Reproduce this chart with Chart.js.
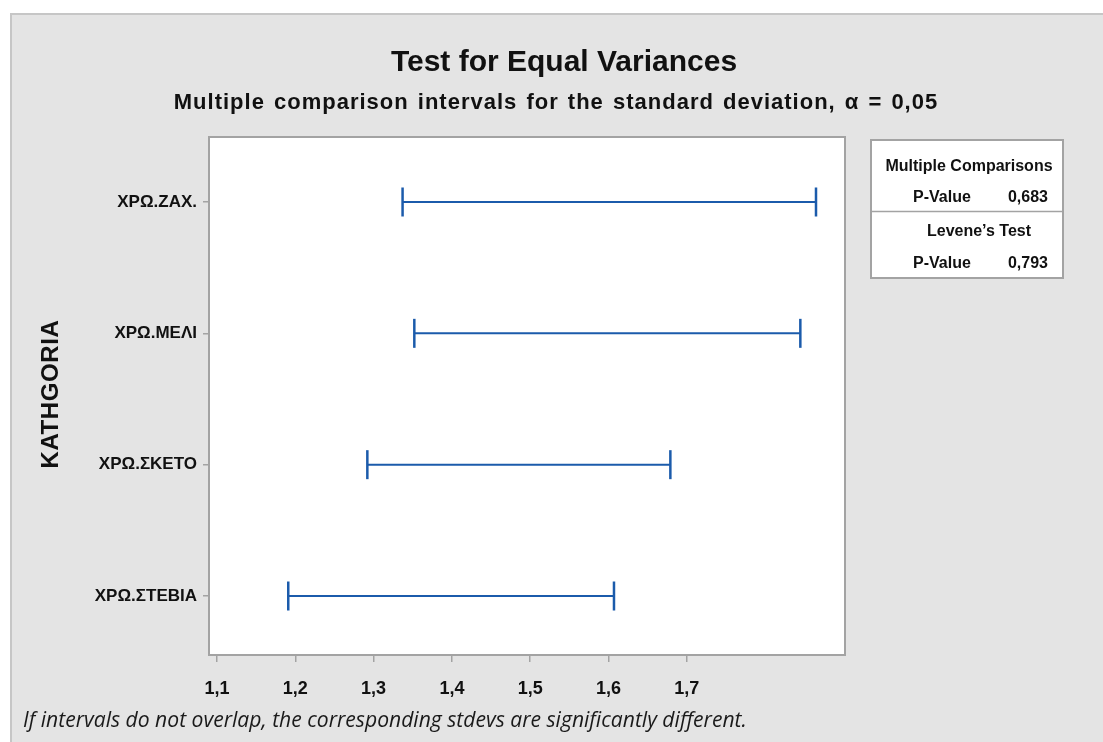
<!DOCTYPE html>
<html>
<head>
<meta charset="utf-8">
<script src="https://cdn.jsdelivr.net/npm/chart.js@4"></script>
<style>
  html, body { margin: 0; padding: 0; background: #ffffff; }
  #wrap { width: 1103px; height: 742px; position: relative; }
</style>
</head>
<body>
<div id="wrap"><canvas id="chart"></canvas></div>
<script>
// Categories, top to bottom
const categories = ['ΧΡΩ.ΖΑΧ.', 'ΧΡΩ.ΜΕΛΙ', 'ΧΡΩ.ΣΚΕΤΟ', 'ΧΡΩ.ΣΤΕΒΙΑ'];
// Interval bounds for the standard deviation of each category
const lowerBounds = [1.337, 1.352, 1.292, 1.191];
const upperBounds = [1.865, 1.845, 1.679, 1.607];
// Labelled x ticks
const xTickValues = [1.1, 1.2, 1.3, 1.4, 1.5, 1.6, 1.7];
// Summary table values
const multipleComparisonsP = '0,683';
const leveneP = '0,793';

const BLUE = '#1b5bab';
const FRAME = '#a3a3a3';
const PANEL = '#e4e4e4';
const SANS = '"Liberation Sans", Arial, sans-serif';

// Row position on the y scale: first category at the top
const rowPos = i => categories.length - i;

const datasets = categories.map((c, i) => ({
  label: c,
  data: [{ x: lowerBounds[i], y: rowPos(i) }, { x: upperBounds[i], y: rowPos(i) }],
  showLine: true,
  borderColor: BLUE,
  borderWidth: 2,
  pointStyle: 'line',
  rotation: 90,
  pointRadius: 14.5,
  pointBorderWidth: 2.5,
  pointBorderColor: BLUE,
  pointBackgroundColor: BLUE
}));

// draw text so that it spans a given width, choosing the font size
function fitText(ctx, text, x, y, width, style, family) {
  ctx.font = style + ' 20px ' + family;
  const w = ctx.measureText(text).width;
  const size = 20 * width / w;
  ctx.font = style + ' ' + size.toFixed(2) + 'px ' + family;
  ctx.fillText(text, x, y);
}

const decor = {
  id: 'decor',
  beforeDraw(chart) {
    const { ctx, chartArea: a } = chart;
    ctx.save();
    ctx.fillStyle = '#ffffff';
    ctx.fillRect(0, 0, chart.width, chart.height);
    ctx.fillStyle = PANEL;
    ctx.fillRect(10, 13, chart.width - 10, chart.height - 13);
    ctx.strokeStyle = '#c6c6c6';
    ctx.lineWidth = 2;
    ctx.beginPath();
    ctx.moveTo(11, chart.height);
    ctx.lineTo(11, 14);
    ctx.lineTo(chart.width, 14);
    ctx.stroke();
    ctx.fillStyle = '#ffffff';
    ctx.fillRect(a.left, a.top, a.right - a.left, a.bottom - a.top);
    ctx.restore();
  },
  afterDraw(chart) {
    const { ctx, chartArea: a } = chart;
    ctx.save();
    // plot frame
    ctx.strokeStyle = FRAME;
    ctx.lineWidth = 2;
    ctx.strokeRect(a.left, a.top, a.right - a.left, a.bottom - a.top);

    ctx.fillStyle = '#111111';
    ctx.textAlign = 'center';
    ctx.textBaseline = 'middle';
    ctx.font = 'bold 30px ' + SANS;
    ctx.fillText('Test for Equal Variances', 564, 63);
    ctx.letterSpacing = '1px';
    ctx.wordSpacing = '2px';
    ctx.font = 'bold 22px ' + SANS;
    ctx.fillText('Multiple comparison intervals for the standard deviation, α = 0,05', 556, 103);
    ctx.letterSpacing = '0px';
    ctx.wordSpacing = '0px';

    // y axis title
    ctx.save();
    ctx.translate(51, 394);
    ctx.rotate(-Math.PI / 2);
    ctx.font = 'bold 24px ' + SANS;
    ctx.letterSpacing = '0.6px';
    ctx.fillText('KATHGORIA', 0, 0);
    ctx.restore();

    // summary table
    const bx = 871, by = 140, bw = 192, bh = 138;
    ctx.fillStyle = '#ffffff';
    ctx.fillRect(bx, by, bw, bh);
    ctx.strokeStyle = FRAME;
    ctx.lineWidth = 2;
    ctx.strokeRect(bx, by, bw, bh);
    ctx.lineWidth = 1.5;
    ctx.beginPath();
    ctx.moveTo(bx, 211.5);
    ctx.lineTo(bx + bw, 211.5);
    ctx.stroke();

    ctx.fillStyle = '#111111';
    ctx.font = 'bold 16px ' + SANS;
    ctx.textAlign = 'center';
    ctx.fillText('Multiple Comparisons', 969, 167);
    ctx.fillText('Levene’s Test', 979, 232);
    ctx.textAlign = 'left';
    ctx.fillText('P-Value', 913, 198);
    ctx.fillText('P-Value', 913, 264);
    ctx.textAlign = 'right';
    ctx.fillText(multipleComparisonsP, 1048, 198);
    ctx.fillText(leveneP, 1048, 264);

    // footnote
    ctx.textAlign = 'left';
    ctx.fillStyle = '#1a1a1a';
    fitText(ctx, 'If intervals do not overlap, the corresponding stdevs are significantly different.',
      23, 721, 724, 'italic', '"Open Sans", Lato, sans-serif');
    ctx.restore();
  }
};

new Chart(document.getElementById('chart'), {
  type: 'scatter',
  data: { datasets },
  plugins: [decor],
  options: {
    responsive: true,
    maintainAspectRatio: false,
    animation: false,
    layout: { padding: { top: 137, right: 258, bottom: 0, left: 0 } },
    plugins: { legend: { display: false }, tooltip: { enabled: false }, title: { display: false } },
    scales: {
      x: {
        type: 'linear',
        min: 1.08978,
        max: 1.90204,
        afterFit(s) { s.height = 87; },
        afterBuildTicks(s) { s.ticks = xTickValues.map(v => ({ value: v })); },
        border: { display: false },
        grid: { drawOnChartArea: false, drawTicks: true, tickLength: 7, color: FRAME, lineWidth: 1.5 },
        ticks: {
          padding: 16,
          color: '#111111',
          maxRotation: 0,
          font: { family: SANS, size: 18, weight: 'bold' },
          callback: v => v.toFixed(1).replace('.', ',')
        }
      },
      y: {
        type: 'linear',
        min: 0.5508,
        max: 4.4949,
        afterFit(s) { s.width = 209; },
        afterBuildTicks(s) { s.ticks = categories.map((c, i) => ({ value: rowPos(i) })); },
        border: { display: false },
        grid: { drawOnChartArea: false, drawTicks: true, tickLength: 6, color: FRAME, lineWidth: 1.5 },
        ticks: {
          padding: 6,
          color: '#111111',
          font: { family: SANS, size: 17, weight: 'bold' },
          callback: v => categories[categories.length - Math.round(v)]
        }
      }
    }
  }
});
</script>
</body>
</html>
